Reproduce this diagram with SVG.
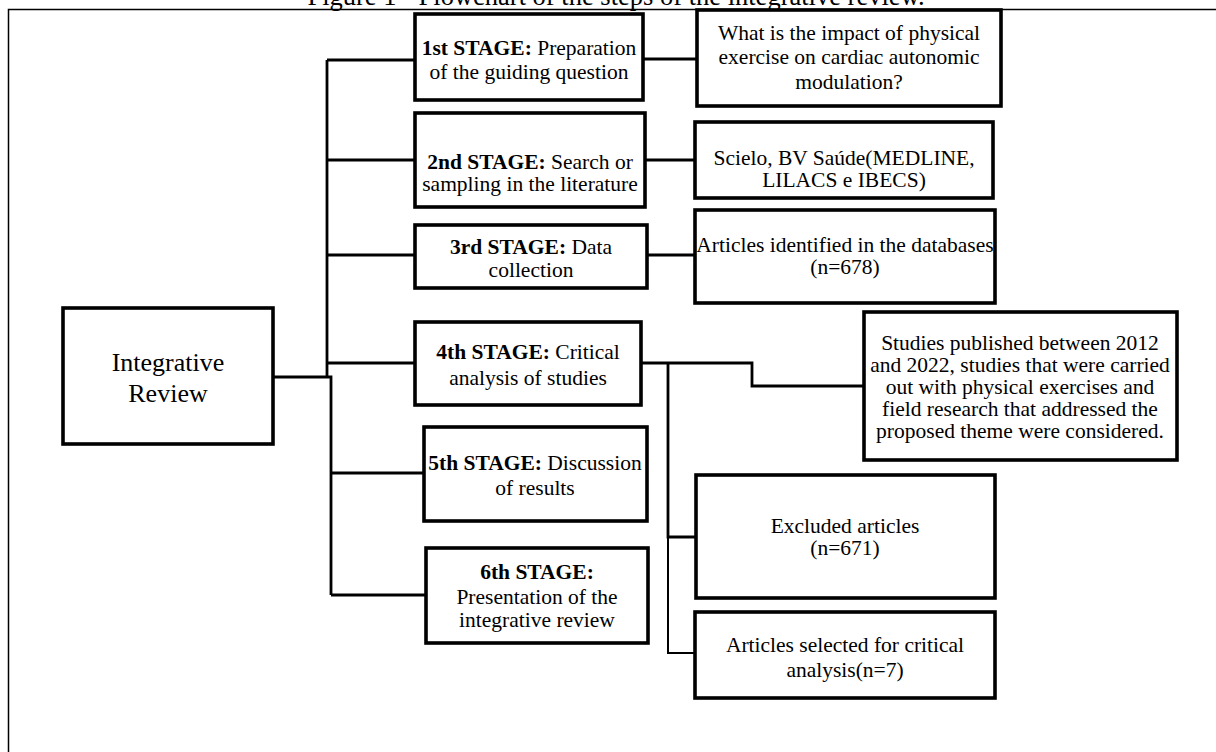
<svg xmlns="http://www.w3.org/2000/svg" width="1216" height="752" viewBox="0 0 1216 752">
<style>
.bg{fill:#fff}
.frame{fill:none;stroke:#000;stroke-width:1.5}
.box{fill:#fff;stroke:#000;stroke-width:3.6}
.t{font-family:"Liberation Serif","Times New Roman",serif;font-size:21.5px;fill:#000;text-anchor:middle}
.big{font-size:26px}
.title{font-size:26.5px}
.b{font-weight:bold}
.c{fill:none;stroke:#000;stroke-width:2.8}
.c2{fill:none;stroke:#000;stroke-width:2}
</style>
<rect class="bg" x="0" y="0" width="1216" height="752"/>
<text class="t title" x="616" y="5">Figure 1 - Flowchart of the steps of the integrative review.</text>
<path class="frame" d="M8.5,752 V9.5 H1216"/>
<g id="connectors">
<path class="c" d="M273,377 H331 V595"/>
<path class="c" d="M327,60 V377"/>
<path class="c" d="M327,60 H415 M327,160 H415 M327,255 H415 M327,363 H415"/>
<path class="c" d="M331,473 H424 M331,595 H426"/>
<path class="c" d="M643,59 H697 M645,160 H695 M647,255 H695"/>
<path class="c" d="M641,363 H752 V386 H864"/>
<path class="c" d="M668,363 V537 H696"/>
<path class="c2" d="M668,537 V653 H695"/>
</g>
<g id="integrative-review">
<rect class="box" x="63" y="308" width="210" height="136"/>
<text class="t big" x="168" y="371">Integrative</text>
<text class="t big" x="168" y="402">Review</text>
</g>
<g id="stage1">
<rect class="box" x="415" y="14" width="228" height="86"/>
<text class="t" x="529" y="55"><tspan class="b">1st STAGE:</tspan> Preparation</text>
<text class="t" x="529" y="79">of the guiding question</text>
</g>
<g id="question">
<rect class="box" x="697" y="10" width="304" height="96"/>
<text class="t" x="849" y="40">What is the impact of physical</text>
<text class="t" x="849" y="64">exercise on cardiac autonomic</text>
<text class="t" x="849" y="89">modulation?</text>
</g>
<g id="stage2">
<rect class="box" x="415" y="113" width="230" height="94"/>
<text class="t" x="530" y="169"><tspan class="b">2nd STAGE:</tspan> Search or</text>
<text class="t" x="530" y="191">sampling in the literature</text>
</g>
<g id="databases">
<rect class="box" x="695" y="122" width="298" height="76"/>
<text class="t" x="844" y="165">Scielo, BV Saúde(MEDLINE,</text>
<text class="t" x="844" y="187">LILACS e IBECS)</text>
</g>
<g id="stage3">
<rect class="box" x="415" y="225" width="232" height="63"/>
<text class="t" x="531" y="254"><tspan class="b">3rd STAGE:</tspan> Data</text>
<text class="t" x="531" y="277">collection</text>
</g>
<g id="identified">
<rect class="box" x="695" y="210" width="300" height="93"/>
<text class="t" x="845" y="252">Articles identified in the databases</text>
<text class="t" x="845" y="274">(n=678)</text>
</g>
<g id="stage4">
<rect class="box" x="415" y="322" width="226" height="83"/>
<text class="t" x="528" y="359"><tspan class="b">4th STAGE:</tspan> Critical</text>
<text class="t" x="528" y="385">analysis of studies</text>
</g>
<g id="criteria">
<rect class="box" x="864" y="312" width="313" height="148"/>
<text class="t" x="1020" y="350">Studies published between 2012</text>
<text class="t" x="1020" y="372">and 2022, studies that were carried</text>
<text class="t" x="1020" y="394">out with physical exercises and</text>
<text class="t" x="1020" y="416">field research that addressed the</text>
<text class="t" x="1020" y="438">proposed theme were considered.</text>
</g>
<g id="stage5">
<rect class="box" x="424" y="427" width="223" height="94"/>
<text class="t" x="535" y="470"><tspan class="b">5th STAGE:</tspan> Discussion</text>
<text class="t" x="535" y="495">of results</text>
</g>
<g id="stage6">
<rect class="box" x="426" y="548" width="222" height="95"/>
<text class="t b" x="537" y="579">6th STAGE:</text>
<text class="t" x="537" y="604">Presentation of the</text>
<text class="t" x="537" y="627">integrative review</text>
</g>
<g id="excluded">
<rect class="box" x="696" y="475" width="299" height="123"/>
<text class="t" x="845" y="533">Excluded articles</text>
<text class="t" x="845" y="555">(n=671)</text>
</g>
<g id="selected">
<rect class="box" x="695" y="612" width="300" height="86"/>
<text class="t" x="845" y="652">Articles selected for critical</text>
<text class="t" x="845" y="677">analysis(n=7)</text>
</g>
</svg>
